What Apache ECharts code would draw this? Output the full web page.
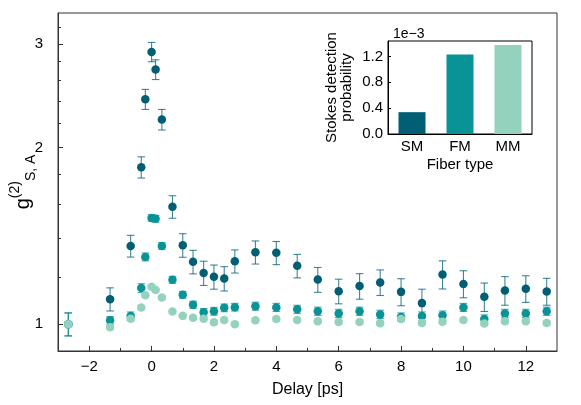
<!DOCTYPE html>
<html><head><meta charset="utf-8">
<script src="https://cdn.jsdelivr.net/npm/echarts@6/dist/echarts.min.js"></script>
<style>html,body{margin:0;padding:0;background:#fff}#c{width:581px;height:405px}</style>
</head><body><div id="c"></div>
<script>
const delay = [-2.67, -1.33, -0.67, -0.33, -0.2, 0, 0.13, 0.33, 0.67, 1, 1.33, 1.67, 2, 2.33, 2.67, 3.33, 4, 4.67, 5.33, 6, 6.67, 7.33, 8, 8.67, 9.33, 10, 10.67, 11.33, 12, 12.67];
const smG2 = [1.0, 1.103, 1.359, 1.851, 2.417, 2.91, 2.716, 2.232, 1.585, 1.363, 1.277, 1.222, 1.204, 1.196, 1.28, 1.326, 1.323, 1.257, 1.191, 1.138, 1.161, 1.178, 1.135, 1.086, 1.215, 1.171, 1.113, 1.141, 1.149, 1.137];
const smErr = [0.045, 0.05, 0.058, 0.077, 0.095, 0.11, 0.105, 0.09, 0.07, 0.063, 0.059, 0.058, 0.057, 0.057, 0.058, 0.06, 0.06, 0.058, 0.058, 0.055, 0.058, 0.059, 0.06, 0.061, 0.067, 0.062, 0.062, 0.064, 0.06, 0.06];
const fmG2 = [1.0, 1.015, 1.032, 1.152, 1.302, 1.517, 1.512, 1.359, 1.19, 1.122, 1.079, 1.048, 1.052, 1.066, 1.069, 1.073, 1.068, 1.06, 1.052, 1.043, 1.052, 1.039, 1.028, 1.032, 1.036, 1.068, 1.02, 1.043, 1.043, 1.052];
const fmErr = [0.045, 0.015, 0.017, 0.02, 0.02, 0.02, 0.02, 0.018, 0.016, 0.015, 0.015, 0.015, 0.016, 0.016, 0.016, 0.017, 0.017, 0.017, 0.017, 0.017, 0.017, 0.017, 0.017, 0.017, 0.017, 0.017, 0.017, 0.017, 0.017, 0.017];
const mmG2 = [1.0, 0.988, 1.021, 1.068, 1.12, 1.158, 1.143, 1.11, 1.051, 1.033, 1.025, 1.021, 1.007, 1.016, 1.0, 1.015, 1.02, 1.016, 1.011, 1.008, 1.008, 1.004, 1.02, 1.005, 1.009, 1.016, 1.003, 1.011, 1.011, 1.005];
const mmErr = [0.008, 0.008, 0.008, 0.008, 0.008, 0.008, 0.008, 0.008, 0.008, 0.008, 0.008, 0.008, 0.008, 0.008, 0.008, 0.008, 0.008, 0.008, 0.008, 0.008, 0.008, 0.008, 0.008, 0.008, 0.008, 0.008, 0.008, 0.008, 0.008, 0.008];
const fiberTypes = ['SM', 'FM', 'MM'];
const stokesProb = [0.338, 1.231, 1.378];
const xTickLabels = [-2, 0, 2, 4, 6, 8, 10, 12];
const xMinorTicks = [-1, 1, 3, 5, 7, 9, 11];
const yTickLabels = [1, 2, 3];
const yMinorTicks = [1.2, 1.4, 1.6, 1.8, 2.2, 2.4, 2.6, 2.8, 3.2];
const insetTicks = [0, 0.4, 0.8, 1.2];

const colors = {SM: '#005f73', FM: '#0a9396', MM: '#94d2bd'};
const FONT = '"Liberation Sans", Arial, sans-serif';

function pts(ys) { return delay.map((x, i) => [x, ys[i]]); }
function errs(ys, es) { return delay.map((x, i) => [x, ys[i] - es[i], ys[i] + es[i]]); }
function errRender(color) {
  return function (params, api) {
    const x = api.value(0);
    const p1 = api.coord([x, api.value(1)]);
    const p2 = api.coord([x, api.value(2)]);
    const c = 3.8;
    const st = {stroke: color, lineWidth: 1.1, opacity: 0.75};
    return {type: 'group', children: [
      {type: 'line', shape: {x1: p1[0], y1: p1[1], x2: p2[0], y2: p2[1]}, style: st},
      {type: 'line', shape: {x1: p1[0] - c, y1: p1[1], x2: p1[0] + c, y2: p1[1]}, style: st},
      {type: 'line', shape: {x1: p2[0] - c, y1: p2[1], x2: p2[0] + c, y2: p2[1]}, style: st}
    ]};
  };
}

const series = [];
const groups = [['SM', smG2, smErr], ['FM', fmG2, fmErr], ['MM', mmG2, mmErr]];
groups.forEach(([name, ys, es], k) => {
  series.push({type: 'custom', name: name + ' err', xAxisIndex: 0, yAxisIndex: 0, z: 2 + 2 * k,
    renderItem: errRender(colors[name]), encode: {x: 0, y: [1, 2]}, data: errs(ys, es), silent: true});
  series.push({type: 'scatter', name: name, xAxisIndex: 0, yAxisIndex: 0, z: 3 + 2 * k,
    symbol: 'circle', symbolSize: 8.5, itemStyle: {color: colors[name], opacity: 1}, data: pts(ys)});
});
series.push({type: 'bar', xAxisIndex: 2, yAxisIndex: 2, barWidth: 27, z: 20,
  data: stokesProb.map((v, i) => ({value: v, itemStyle: {color: colors[fiberTypes[i]]}}))});

const chart = echarts.init(document.getElementById('c'), null, {renderer: 'canvas'});
chart.setOption({
  backgroundColor: '#fff',
  animation: false,
  textStyle: {fontFamily: FONT},
  title: {text: '1e\u22123', left: 388, top: 22, textStyle: {fontSize: 14, fontWeight: 'normal', color: '#000', fontFamily: FONT}},
  grid: [
    {left: 58, top: 13, width: 499, height: 338, show: true, borderColor: '#333', borderWidth: 1, backgroundColor: 'transparent', containLabel: false, outerBoundsMode: 'none'},
    {left: 388, top: 41, width: 144, height: 93, show: true, borderColor: '#000', borderWidth: 1, backgroundColor: '#fff', z: 15, containLabel: false, outerBoundsMode: 'none'}
  ],
  xAxis: [
    {type: 'value', gridIndex: 0, position: 'bottom', min: -3, max: 13, splitLine: {show: false},
      axisLine: {show: true, onZero: false, lineStyle: {color: '#333', width: 1}},
      axisTick: {show: true, inside: true, length: 5, customValues: xTickLabels, lineStyle: {color: '#333'}},
      axisLabel: {customValues: xTickLabels, fontSize: 15, color: '#000', margin: 8, formatter: v => (v < 0 ? '\u2212' + Math.abs(v) : String(v))},
      name: 'Delay [ps]', nameLocation: 'middle', nameGap: 31, nameMoveOverlap: false, nameTextStyle: {fontSize: 16, color: '#000'}},
    {type: 'value', gridIndex: 0, position: 'bottom', min: -3, max: 13, splitLine: {show: false},
      axisLine: {show: false, onZero: false},
      axisTick: {show: true, inside: true, length: 3, customValues: xMinorTicks, lineStyle: {color: '#333'}},
      axisLabel: {show: false}},
    {type: 'category', gridIndex: 1, data: fiberTypes, z: 16,
      axisLine: {show: true, lineStyle: {color: '#000'}},
      axisTick: {show: false},
      axisLabel: {fontSize: 15, color: '#000', margin: 5},
      name: 'Fiber type', nameLocation: 'middle', nameGap: 23, nameMoveOverlap: false, nameTextStyle: {fontSize: 15, color: '#000'}}
  ],
  yAxis: [
    {type: 'log', logBase: 10, gridIndex: 0, position: 'left', min: 0.9, max: 3.39, splitLine: {show: false},
      axisLine: {show: true, onZero: false, lineStyle: {color: '#333', width: 1}},
      axisTick: {show: true, inside: true, length: 5, customValues: yTickLabels, lineStyle: {color: '#333'}},
      axisLabel: {customValues: yTickLabels, fontSize: 15, color: '#000', margin: 15, formatter: v => String(Math.round(v))},
      name: '{g|g}{sup|(2)}{sub|S, A}', nameLocation: 'middle', nameGap: 20, nameRotate: 90, nameMoveOverlap: false,
      nameTextStyle: {color: '#000', rich: {
        g: {fontSize: 20, color: '#000', lineHeight: 30, verticalAlign: 'middle', fontFamily: FONT},
        sup: {fontSize: 14, color: '#000', verticalAlign: 'top', fontFamily: FONT},
        sub: {fontSize: 14, color: '#000', verticalAlign: 'bottom', fontFamily: FONT}
      }}},
    {type: 'log', logBase: 10, gridIndex: 0, position: 'left', min: 0.9, max: 3.39, splitLine: {show: false},
      axisLine: {show: false, onZero: false},
      axisTick: {show: true, inside: true, length: 3, customValues: yMinorTicks, lineStyle: {color: '#333'}},
      axisLabel: {show: false}},
    {type: 'value', gridIndex: 1, min: 0, max: 1.44, splitLine: {show: false}, z: 16,
      axisLine: {show: true, lineStyle: {color: '#000'}},
      axisTick: {show: true, inside: true, length: 3, customValues: insetTicks, lineStyle: {color: '#000'}},
      axisLabel: {customValues: insetTicks, fontSize: 15, color: '#000', margin: 5, formatter: v => v.toFixed(1)},
      name: 'Stokes detection\nprobability', nameLocation: 'middle', nameGap: 34, nameRotate: 90, nameMoveOverlap: false,
      nameTextStyle: {fontSize: 15, color: '#000', lineHeight: 15}}
  ],
  series: series
});
</script></body></html>
